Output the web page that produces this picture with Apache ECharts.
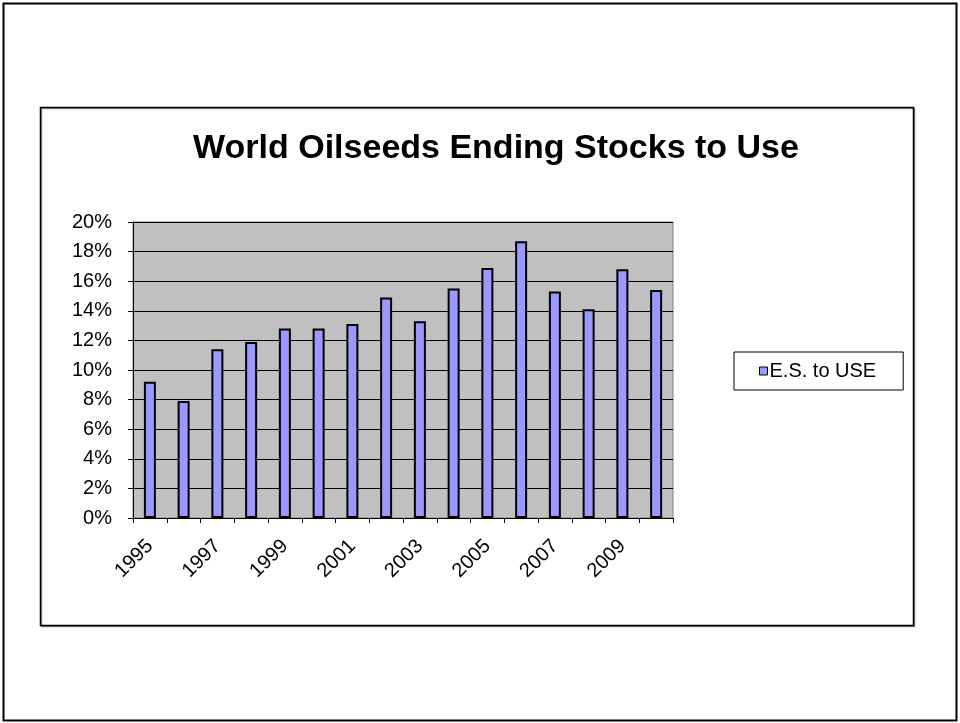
<!DOCTYPE html>
<html><head><meta charset="utf-8">
<script src="https://cdn.jsdelivr.net/npm/echarts@6/dist/echarts.min.js"></script>
<style>html,body{margin:0;padding:0;background:#fff}#c{width:960px;height:723px}</style>
</head><body><div id="c"></div>
<script>
const years = ['1995','1996','1997','1998','1999','2000','2001','2002','2003','2004','2005','2006','2007','2008','2009','2010'];
const esToUse = [9.2, 7.9, 11.4, 11.9, 12.8, 12.8, 13.1, 14.9, 13.3, 15.5, 16.9, 18.7, 15.3, 14.1, 16.8, 15.4];
const yTicks = [0, 2, 4, 6, 8, 10, 12, 14, 16, 18, 20];
const seriesName = 'E.S. to USE';
const titleText = 'World Oilseeds Ending Stocks to Use';

const chart = echarts.init(document.getElementById('c'));
chart.setOption({
  animation: false,
  backgroundColor: '#fff',
  graphic: [
    {type:'rect', shape:{x:3.5,y:3.5,width:953,height:717}, style:{fill:'none',stroke:'#000',lineWidth:2}, z:-10},
    {type:'rect', shape:{x:40.5,y:107.5,width:873,height:518}, style:{fill:'#fff',stroke:'#000',lineWidth:1.5, shadowColor:'rgba(0,0,0,0.4)', shadowOffsetX:1, shadowOffsetY:1}, z:-5}
  ],
  title: {
    text: titleText, left: 491, top: 127, textAlign: 'center',
    textStyle: {fontFamily:'Liberation Sans, Arial', fontSize: 34, fontWeight:'bold', color:'#000'}
  },
  legend: {
    data: [{name: seriesName}],
    left: 734, top: 352,
    orient: 'vertical',
    padding: [9, 27, 9, 25],
    borderColor: '#000', borderWidth: 1,
    backgroundColor: '#fff',
    icon: 'rect', itemWidth: 8, itemHeight: 8, itemGap: 0,
    textStyle: {fontFamily:'Liberation Sans, Arial', fontSize: 20, color:'#000', padding:[0,0,0,-3]},
    itemStyle: {borderColor:'#000', borderWidth:1}
  },
  grid: {left: 133, top: 222, width: 540, height: 296, show: true, backgroundColor: '#c0c0c0', borderColor: '#808080', borderWidth: 1},
  xAxis: {
    type: 'category', data: years,
    axisLine: {lineStyle: {color:'#000', width:1}},
    axisTick: {show: true, alignWithLabel: false, interval: 0, length: 5, lineStyle:{color:'#000'}},
    axisLabel: {interval: 1, rotate: 45, margin: 25, fontFamily:'Liberation Sans, Arial', fontSize: 20, color:'#000'},
    splitLine: {show: false}
  },
  yAxis: {
    type: 'value', min: 0, max: 20, interval: 2,
    axisLine: {show: true, lineStyle: {color:'#000', width:1}},
    axisTick: {show: true, length: 5, lineStyle:{color:'#000'}},
    axisLabel: {margin: 21, fontFamily:'Liberation Sans, Arial', fontSize: 20, color:'#000',
      formatter: v => yTicks.includes(v) ? v + '%' : ''},
    splitLine: {show: true, lineStyle: {color:'#000', width:1}}
  },
  series: [{
    name: seriesName, type: 'bar', data: esToUse, barWidth: 12,
    itemStyle: {color:'#9999ff', borderColor:'#000', borderWidth: 2}
  }]
});
</script></body></html>
